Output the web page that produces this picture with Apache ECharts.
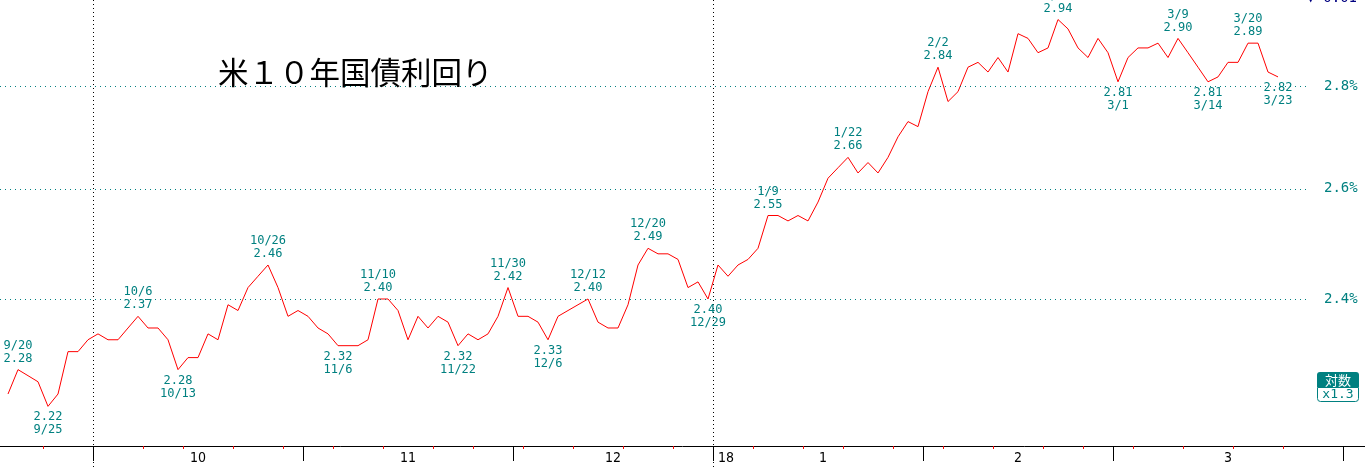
<!DOCTYPE html>
<html>
<head>
<meta charset="utf-8">
<script src="https://cdn.jsdelivr.net/npm/echarts@6/dist/echarts.min.js"></script>
<style>
  html, body { margin: 0; padding: 0; background: #fff; }
  #chart { width: 1365px; height: 469px; }
</style>
</head>
<body>
<div id="chart"></div>
<script>
// 取引日 (2017/9/19 - 2018/3/23)
const tradeDates = [
  '2017-09-19','2017-09-20','2017-09-21','2017-09-22','2017-09-25','2017-09-26','2017-09-27','2017-09-28','2017-09-29',
  '2017-10-02','2017-10-03','2017-10-04','2017-10-05','2017-10-06','2017-10-10','2017-10-11','2017-10-12','2017-10-13',
  '2017-10-16','2017-10-17','2017-10-18','2017-10-19','2017-10-20','2017-10-23','2017-10-24','2017-10-25','2017-10-26',
  '2017-10-27','2017-10-30','2017-10-31',
  '2017-11-01','2017-11-02','2017-11-03','2017-11-06','2017-11-07','2017-11-08','2017-11-09','2017-11-10','2017-11-13',
  '2017-11-14','2017-11-15','2017-11-16','2017-11-17','2017-11-20','2017-11-21','2017-11-22','2017-11-24','2017-11-27',
  '2017-11-28','2017-11-29','2017-11-30',
  '2017-12-01','2017-12-04','2017-12-05','2017-12-06','2017-12-07','2017-12-08','2017-12-11','2017-12-12','2017-12-13',
  '2017-12-14','2017-12-15','2017-12-18','2017-12-19','2017-12-20','2017-12-21','2017-12-22','2017-12-26','2017-12-27',
  '2017-12-28','2017-12-29',
  '2018-01-02','2018-01-03','2018-01-04','2018-01-05','2018-01-08','2018-01-09','2018-01-10','2018-01-11','2018-01-12',
  '2018-01-16','2018-01-17','2018-01-18','2018-01-19','2018-01-22','2018-01-23','2018-01-24','2018-01-25','2018-01-26',
  '2018-01-29','2018-01-30','2018-01-31',
  '2018-02-01','2018-02-02','2018-02-05','2018-02-06','2018-02-07','2018-02-08','2018-02-09','2018-02-12','2018-02-13',
  '2018-02-14','2018-02-15','2018-02-16','2018-02-20','2018-02-21','2018-02-22','2018-02-23','2018-02-26','2018-02-27',
  '2018-02-28',
  '2018-03-01','2018-03-02','2018-03-05','2018-03-06','2018-03-07','2018-03-08','2018-03-09','2018-03-12','2018-03-13',
  '2018-03-14','2018-03-15','2018-03-16','2018-03-19','2018-03-20','2018-03-21','2018-03-22','2018-03-23'
]

// 利回り (%)
const yields = [
  2.24, 2.28, 2.27, 2.26, 2.22, 2.24, 2.31, 2.31, 2.33,
  2.34, 2.33, 2.33, 2.35, 2.37, 2.35, 2.35, 2.33, 2.28, 2.30, 2.30, 2.34, 2.33, 2.39, 2.38, 2.42, 2.44, 2.46, 2.42, 2.37, 2.38,
  2.37, 2.35, 2.34, 2.32, 2.32, 2.32, 2.33, 2.40, 2.40, 2.38, 2.33, 2.37, 2.35, 2.37, 2.36, 2.32, 2.34, 2.33, 2.34, 2.37, 2.42,
  2.37, 2.37, 2.36, 2.33, 2.37, 2.38, 2.39, 2.40, 2.36, 2.35, 2.35, 2.39, 2.46, 2.49, 2.48, 2.48, 2.47, 2.42, 2.43, 2.40,
  2.46, 2.44, 2.46, 2.47, 2.49, 2.55, 2.55, 2.54, 2.55, 2.54, 2.575, 2.62, 2.64, 2.66, 2.63, 2.65, 2.63, 2.66, 2.70, 2.73, 2.72,
  2.79, 2.84, 2.77, 2.79, 2.84, 2.85, 2.83, 2.86, 2.83, 2.91, 2.90, 2.87, 2.88, 2.94, 2.92, 2.88, 2.86, 2.90, 2.87,
  2.81, 2.86, 2.88, 2.88, 2.89, 2.86, 2.90, 2.87, 2.84, 2.81, 2.82, 2.85, 2.85, 2.89, 2.89, 2.83, 2.82
]

// 画面外・将来の空き枠
const padStart = ['2017-09-18']
const padEnd = ['2018-03-26','2018-03-27','2018-03-28','2018-03-29','2018-03-30','2018-03-31','2018-04-02','2018-04-03','2018-04-04']

// 高値・安値の注記
const peakDates = ['2017-09-20','2017-10-06','2017-10-26','2017-11-10','2017-11-30','2017-12-12','2017-12-20',
  '2018-01-09','2018-01-22','2018-02-02','2018-02-21','2018-03-09','2018-03-20']
const troughDates = ['2017-09-25','2017-10-13','2017-11-06','2017-11-22','2017-12-06','2017-12-29',
  '2018-03-01','2018-03-14','2018-03-23']

const gridLevels = [2.4, 2.6, 2.8]
const yMin = 2.157
const yMax = 2.982

const TEAL = '#008080'
const MONO = "'DejaVu Sans Mono', 'Liberation Mono', monospace"
const NARROW = "'Liberation Sans Narrow', 'DejaVu Sans Condensed', 'Liberation Sans', sans-serif"

const categories = padStart.concat(tradeDates, padEnd)
const parsed = categories.map(d => new Date(d + 'T00:00:00Z'))
const tradeSet = new Set(tradeDates)

const weekStart = new Set()
const monthStart = []
const quarterLine = new Set()
const yearStart = new Set()
for (let i = 1; i < parsed.length; i++) {
  const a = parsed[i - 1], b = parsed[i]
  const gap = (b - a) / 86400000
  if (b.getUTCDay() < a.getUTCDay() || gap >= 7) weekStart.add(i)
  if (b.getUTCMonth() !== a.getUTCMonth()) {
    monthStart.push(i)
    if (b.getUTCMonth() === 0) yearStart.add(i)
    if (b.getUTCMonth() % 3 === 0 && tradeSet.has(categories[i])) quarterLine.add(i)
  }
}

// 月ラベルは月の中央
const monthLabel = {}
for (let m = 0; m + 1 < monthStart.length; m++) {
  const s = monthStart[m], e = monthStart[m + 1]
  const mid = (s + e - 1) / 2 + (yearStart.has(s) ? 0.5 : 0)
  const idx = Math.floor(mid)
  monthLabel[idx] = { text: String(parsed[s].getUTCMonth() + 1), half: mid > idx }
}

const labelPos = {}
peakDates.forEach(d => { labelPos[d] = 'top' })
troughDates.forEach(d => { labelPos[d] = 'bottom' })

const md = d => { const t = new Date(d + 'T00:00:00Z'); return (t.getUTCMonth() + 1) + '/' + t.getUTCDate() }

const seriesData = categories.map(d => {
  const j = tradeDates.indexOf(d)
  if (j < 0) return null
  const v = yields[j]
  if (!labelPos[d]) return v
  return {
    value: v,
    symbol: 'circle',
    symbolSize: 1,
    itemStyle: { color: 'rgba(0,0,0,0)', borderWidth: 0 },
    label: { show: true, position: labelPos[d] }
  }
})

const chart = echarts.init(document.getElementById('chart'), null, { renderer: 'canvas' })

const baseX = {
  type: 'category',
  data: categories,
  gridIndex: 0,
  position: 'bottom',
  boundaryGap: true,
  axisLine: { show: false },
  axisTick: { show: false },
  axisLabel: { show: false },
  splitLine: { show: false }
}

chart.setOption({
  animation: false,
  backgroundColor: '#fff',
  title: {
    text: '米１０年国債利回り',
    left: 218,
    top: 57,
    padding: 0,
    textStyle: { fontSize: 30.5, fontWeight: 'normal', color: '#000', fontFamily: "'Noto Sans CJK JP', sans-serif" }
  },
  grid: [
    { left: -7, top: 0, width: 1380, height: 446, outerBoundsMode: 'none', containLabel: false },
    { left: 0, top: 0, width: 1306, height: 446, outerBoundsMode: 'none', containLabel: false }
  ],
  xAxis: [
    Object.assign({}, baseX, {
      axisLine: { show: true, lineStyle: { color: '#000', width: 1 } },
      axisTick: { show: true, interval: i => weekStart.has(i), length: 3, lineStyle: { color: '#ff0000' } },
      axisLabel: {
        show: true,
        interval: i => monthLabel[i] !== undefined,
        margin: 5,
        color: '#000',
        fontSize: 14,
        fontFamily: NARROW,
        formatter: (v, i) => {
          const l = monthLabel[i]
          if (!l) return ''
          return l.half ? '{h|' + l.text + '}' : l.text
        },
        rich: { h: { padding: [0, 0, 0, 10], fontSize: 14, fontFamily: NARROW, color: '#000' } }
      },
      splitLine: {
        show: true,
        interval: i => quarterLine.has(i),
        lineStyle: { color: '#000', type: [1, 3], width: 1 }
      }
    }),
    Object.assign({}, baseX, {
      axisTick: { show: true, interval: i => monthStart.includes(i), length: 15, lineStyle: { color: '#000', width: 1 } },
      axisLabel: {
        show: true,
        interval: i => yearStart.has(i),
        align: 'left',
        margin: 5,
        color: '#000',
        fontSize: 14,
        fontFamily: NARROW,
        formatter: (v, i) => yearStart.has(i) ? String(parsed[i].getUTCFullYear()).slice(2) : ''
      }
    }),
    Object.assign({}, baseX, {
      axisTick: { show: true, interval: i => quarterLine.has(i), length: 23, lineStyle: { color: '#000', type: [1, 3], width: 1 } }
    }),
    { type: 'value', gridIndex: 1, min: 0, max: 1, show: false }
  ],
  yAxis: [
    { type: 'log', gridIndex: 0, min: yMin, max: yMax, show: false, splitLine: { show: false } },
    { type: 'log', gridIndex: 1, min: yMin, max: yMax, show: false, splitLine: { show: false } }
  ],
  series: [
    {
      type: 'line',
      xAxisIndex: 3,
      yAxisIndex: 1,
      data: [],
      silent: true,
      markLine: {
        silent: true,
        animation: false,
        symbol: ['none', 'none'],
        lineStyle: { color: TEAL, type: [1, 4], width: 1 },
        label: {
          position: 'end',
          distance: 18,
          color: TEAL,
          fontSize: 14,
          fontFamily: MONO,
          formatter: p => p.value.toFixed(1) + '%'
        },
        emphasis: { disabled: true },
        data: gridLevels.map(v => ({ yAxis: v }))
      }
    },
    {
      type: 'line',
      name: '米10年債',
      xAxisIndex: 0,
      yAxisIndex: 0,
      data: seriesData,
      silent: true,
      symbol: 'none',
      showSymbol: true,
      showAllSymbol: true,
      connectNulls: false,
      lineStyle: { color: '#ff0000', width: 1 },
      itemStyle: { color: '#ff0000' },
      emphasis: { disabled: true },
      label: {
        show: false,
        distance: 4,
        color: TEAL,
        fontSize: 12,
        lineHeight: 13,
        fontFamily: MONO,
        formatter: p => {
          const d = categories[p.dataIndex]
          const v = Number(p.value).toFixed(2)
          return labelPos[d] === 'top' ? md(d) + '\n' + v : v + '\n' + md(d)
        }
      }
    }
  ],
  graphic: [
    {
      type: 'text',
      right: 8,
      top: -9,
      style: { text: '▼ 0.01', fill: '#000080', font: "14px 'DejaVu Sans Mono'" }
    },
    {
      type: 'group',
      left: 1317,
      top: 372,
      children: [
        { type: 'rect', shape: { x: 0, y: 0, width: 42, height: 15, r: [3, 3, 0, 0] }, style: { fill: TEAL } },
        { type: 'rect', shape: { x: 0.5, y: 15.5, width: 41, height: 14, r: [0, 0, 3, 3] }, style: { fill: '#fff', stroke: TEAL, lineWidth: 1 } },
        { type: 'text', x: 21, y: 8, style: { text: '対数', fill: '#fff', font: "13px 'Noto Sans CJK JP'", align: 'center', verticalAlign: 'middle' } },
        { type: 'text', x: 21, y: 23, style: { text: 'x1.3', fill: TEAL, font: "13px 'DejaVu Sans Mono'", align: 'center', verticalAlign: 'middle' } }
      ]
    }
  ]
})
</script>
</body>
</html>
